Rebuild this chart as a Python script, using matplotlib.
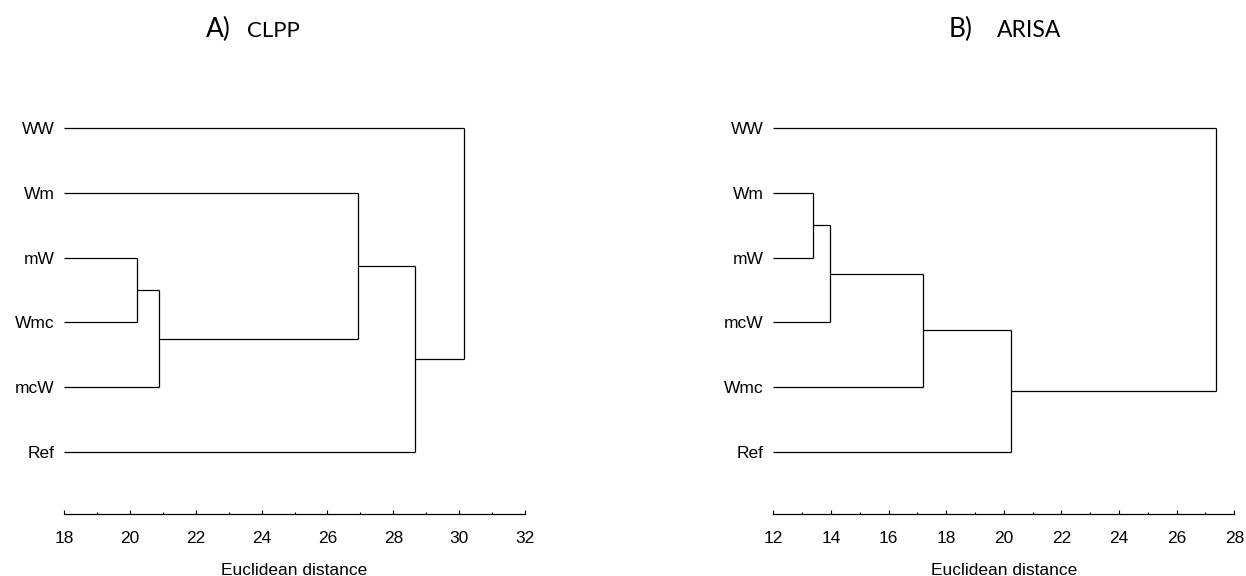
import matplotlib.pyplot as plt
from matplotlib.ticker import MultipleLocator

# leaf order top to bottom, and merges as (node_a, node_b, distance)
# node index: 0..5 are leaves, 6.. are merged clusters in order
clpp_leaves = ["WW", "Wm", "mW", "Wmc", "mcW", "Ref"]
clpp_merges = [(2, 3, 20.23), (6, 4, 20.89), (1, 7, 26.93), (8, 5, 28.66), (0, 9, 30.15)]

arisa_leaves = ["WW", "Wm", "mW", "mcW", "Wmc", "Ref"]
arisa_merges = [(1, 2, 13.39), (6, 3, 13.97), (7, 4, 17.21), (8, 5, 20.25), (0, 9, 27.36)]

plt.rcParams['font.family'] = ['Liberation Sans', 'DejaVu Sans']


def draw_dendro(ax, leaves, merges, xmin, xmax):
    n = len(leaves)
    nodes = [(xmin, n - 1 - i) for i in range(n)]
    for a, b, h in merges:
        xa, ya = nodes[a]
        xb, yb = nodes[b]
        ax.plot([xa, h], [ya, ya], color="black", lw=0.9, solid_capstyle="butt")
        ax.plot([xb, h], [yb, yb], color="black", lw=0.9, solid_capstyle="butt")
        ax.plot([h, h], [ya, yb], color="black", lw=0.9, solid_capstyle="butt")
        nodes.append((h, (ya + yb) / 2))
    ax.set_xlim(xmin, xmax)
    ax.set_ylim(-0.957, 5.43)
    ax.set_yticks(range(n))
    ax.set_yticklabels(leaves[::-1], fontsize=12.5)
    ax.tick_params(axis="y", length=0, pad=7)
    ax.xaxis.set_major_locator(MultipleLocator(2))
    ax.xaxis.set_minor_locator(MultipleLocator(1))
    ax.tick_params(axis="x", which="major", direction="in", length=3, width=0.8, labelsize=12.5, pad=12.5)
    ax.tick_params(axis="x", which="minor", direction="in", length=1.5, width=0.8)
    for s in ["top", "right", "left"]:
        ax.spines[s].set_visible(False)
    ax.spines["bottom"].set_linewidth(0.9)
    ax.set_xlabel("Euclidean distance", fontsize=12.5, labelpad=12)


fig = plt.figure(figsize=(12.46, 5.76), dpi=100)
ax1 = fig.add_axes([0.0514, 0.1076, 0.370, 0.71875])
ax2 = fig.add_axes([0.6206, 0.1076, 0.370, 0.71875])

draw_dendro(ax1, clpp_leaves, clpp_merges, 18, 32)
draw_dendro(ax2, arisa_leaves, arisa_merges, 12, 28)

title_font = ["Lato", "DejaVu Sans"]
base_y = 1 - 37 / 576
fig.text(206 / 1246, base_y, "A)", fontsize=19, family=title_font, va="baseline")
fig.text(247 / 1246, base_y, "CLPP", fontsize=16, family=title_font, va="baseline")
fig.text(949 / 1246, base_y, "B)", fontsize=19, family=title_font, va="baseline")
fig.text(997 / 1246, base_y, "ARISA", fontsize=16.5, family=title_font, va="baseline")

fig.savefig("out.png", dpi=100)
